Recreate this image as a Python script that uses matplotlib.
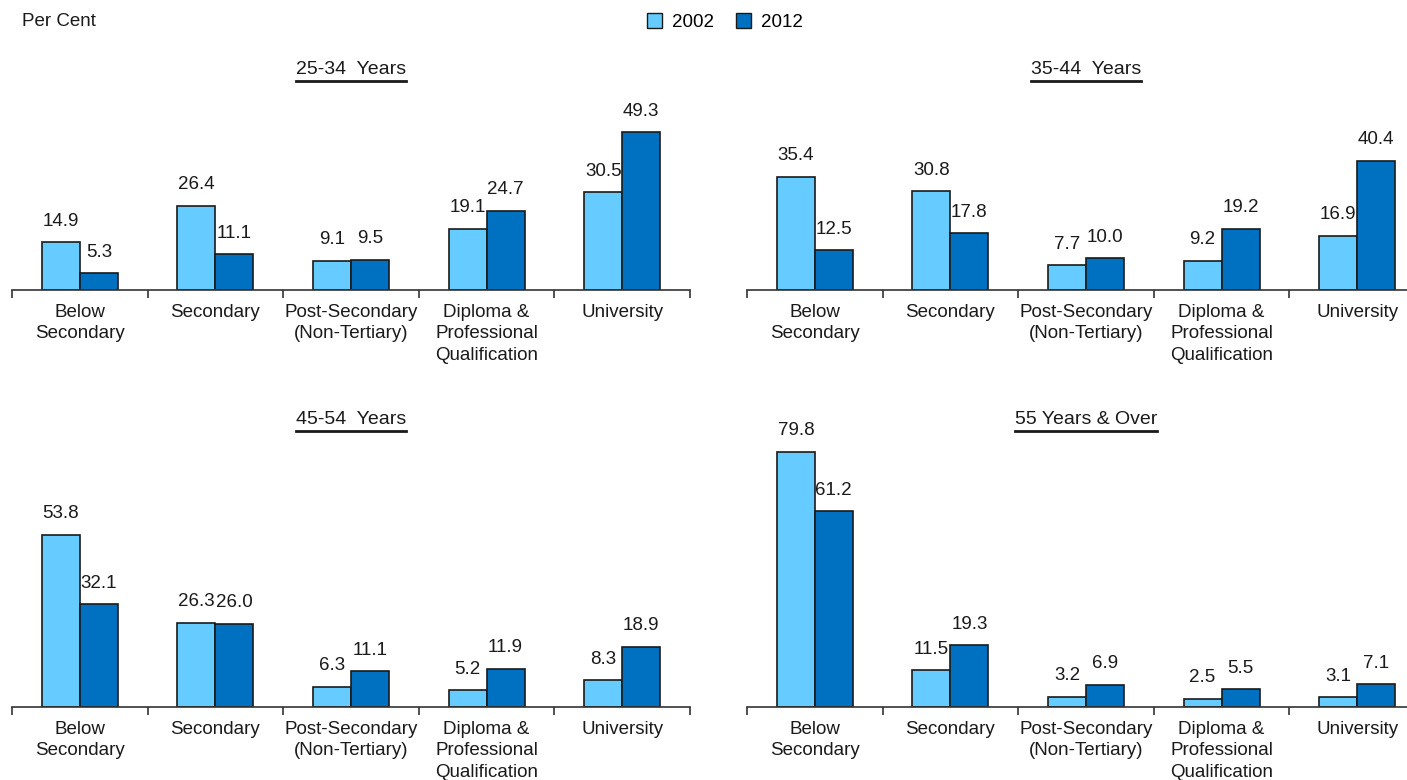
import matplotlib
matplotlib.use("Agg")
import matplotlib.pyplot as plt
from matplotlib.patches import Patch
from matplotlib.lines import Line2D
import numpy as np

plt.rcParams['font.family'] = ['Liberation Sans', 'DejaVu Sans']

categories = ['Below\nSecondary', 'Secondary', 'Post-Secondary\n(Non-Tertiary)',
              'Diploma &\nProfessional\nQualification', 'University']
age_groups = ['25-34  Years', '35-44  Years', '45-54  Years', '55 Years & Over']

# share of residents by highest qualification, per cent
vals_2002 = [
    [14.9, 26.4, 9.1, 19.1, 30.5],
    [35.4, 30.8, 7.7, 9.2, 16.9],
    [53.8, 26.3, 6.3, 5.2, 8.3],
    [79.8, 11.5, 3.2, 2.5, 3.1],
]
vals_2012 = [
    [5.3, 11.1, 9.5, 24.7, 49.3],
    [12.5, 17.8, 10.0, 19.2, 40.4],
    [32.1, 26.0, 11.1, 11.9, 18.9],
    [61.2, 19.3, 6.9, 5.5, 7.1],
]

c_2002 = '#66CCFF'
c_2012 = '#0070C0'
ink = '#1a1a1a'
fs = 13.5

W, H = 1407, 780
fig = plt.figure(figsize=(W / 100, H / 100), dpi=100)

px_per_unit = 3.2
# panel boxes in pixels: left, axis line y, top y
boxes = [
    (12, 290, 85),
    (747, 290, 85),
    (12, 707, 440),
    (747, 707, 440),
]
panel_w = 678
title_y = [70, 70, 420, 420]

x = np.arange(len(categories))
bw = 0.28

for i, (left, base, top) in enumerate(boxes):
    ax = fig.add_axes([left / W, 1 - base / H, panel_w / W, (base - top) / H])
    ax.bar(x - bw / 2, vals_2002[i], bw, color=c_2002, edgecolor=ink, linewidth=1.2)
    ax.bar(x + bw / 2, vals_2012[i], bw, color=c_2012, edgecolor=ink, linewidth=1.2)
    for xi, v in zip(x, vals_2002[i]):
        ax.annotate(f'{v:.1f}', (xi - bw / 2, v), xytext=(0, 9), textcoords='offset points',
                    ha='center', va='bottom', fontsize=fs, color=ink)
    for xi, v in zip(x, vals_2012[i]):
        ax.annotate(f'{v:.1f}', (xi + bw / 2, v), xytext=(0, 9), textcoords='offset points',
                    ha='center', va='bottom', fontsize=fs, color=ink)
    ax.set_xlim(-0.5, 4.5)
    ax.set_ylim(0, (base - top) / px_per_unit)
    for s in ['top', 'right', 'left']:
        ax.spines[s].set_visible(False)
    ax.spines['bottom'].set_linewidth(1.2)
    ax.spines['bottom'].set_color('#333333')
    ax.set_yticks([])
    ax.set_xticks(x)
    ax.set_xticklabels(categories, fontsize=fs, color=ink, linespacing=1.35)
    ax.tick_params(axis='x', which='major', length=0, pad=10)
    ax.set_xticks(np.arange(-0.5, 5, 1), minor=True)
    ax.tick_params(axis='x', which='minor', length=6, width=1.2, color='#333333', direction='out')

    # underlined panel title
    cx = (left + panel_w / 2) / W
    t = fig.text(cx, 1 - title_y[i] / H, age_groups[i], ha='center', va='center',
                 fontsize=14, color=ink)
    fig.canvas.draw()
    bb = t.get_window_extent()
    uy = (bb.y0 - 2) / H
    fig.add_artist(Line2D([bb.x0 / W, bb.x1 / W], [uy, uy], color=ink, linewidth=2))

fig.text(22 / W, 1 - 22 / H, 'Per Cent', ha='left', va='center', fontsize=fs, color=ink)

handles = [Patch(facecolor=c_2002, edgecolor=ink, label='2002'),
           Patch(facecolor=c_2012, edgecolor=ink, label='2012')]
fig.legend(handles=handles, loc='center', bbox_to_anchor=(725 / W, 1 - 22 / H), ncol=2,
           frameon=False, fontsize=fs, handlelength=0.8, handleheight=0.8,
           handletextpad=0.5, columnspacing=1.2)

fig.savefig('out.png', dpi=100)
